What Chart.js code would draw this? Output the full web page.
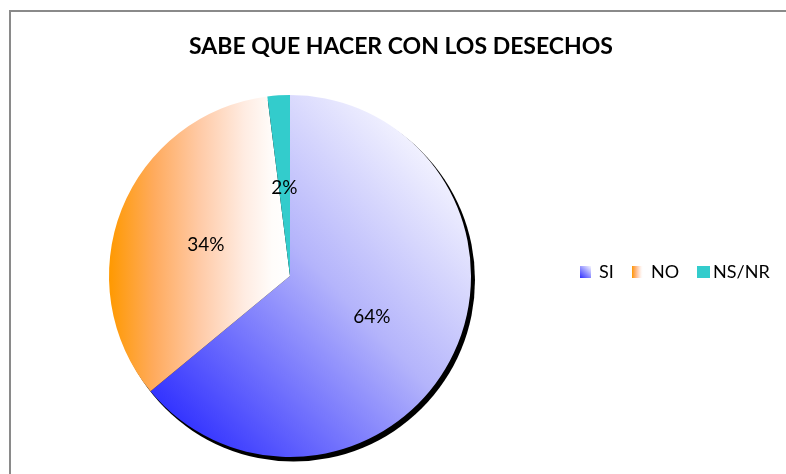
<!DOCTYPE html>
<html lang="es">
<head>
<meta charset="utf-8">
<title>Sabe que hacer con los desechos</title>
<script src="https://cdn.jsdelivr.net/npm/chart.js@4.4.0/dist/chart.umd.min.js"></script>
<style>
	html, body { margin: 0; padding: 0; background: #fff; overflow: hidden; }
	#marco {
		position: absolute; left: 9px; top: 10px; width: 800px; height: 480px;
		border-left: 2px solid #8a8a8a; border-top: 2px solid #8a8a8a;
	}
	#contenedor { position: absolute; left: 0; top: 0; width: 786px; height: 474px; }
</style>
</head>
<body>
<div id="marco"></div>
<div id="contenedor"><canvas id="grafico_desechos"></canvas></div>
<script>
var titulo = "SABE QUE HACER CON LOS DESECHOS";
var categorias = ["SI", "NO", "NS/NR"];
var porcentajes = [64, 34, 2];

var fuente = "Lato, 'Liberation Sans', sans-serif";

function degradadoNaranja(ctx, x0, x1) {
	var g = ctx.createLinearGradient(x0, 0, x1, 0);
	g.addColorStop(0, "#ff9900");
	g.addColorStop(0.25, "#ffab5e");
	g.addColorStop(0.5, "#ffcaa6");
	g.addColorStop(0.75, "#ffece2");
	g.addColorStop(0.9, "#fffcfa");
	g.addColorStop(1, "#ffffff");
	return g;
}

// degradados parecidos a los de Excel
function colorSegmento(context) {
	var chart = context.chart;
	var area = chart.chartArea;
	if (!area) {
		return ["#6666ff", "#ffb060", "#33cccc"][context.dataIndex];
	}
	var ctx = chart.ctx;
	var cx = (area.left + area.right) / 2;
	var cy = (area.top + area.bottom) / 2;
	var r = Math.min(area.width, area.height) / 2;
	if (context.dataIndex === 0) {
		var g = ctx.createLinearGradient(cx - 0.75 * r, cy + 0.72 * r, cx + 0.8 * r, cy - 0.75 * r);
		g.addColorStop(0, "#2f2fff");
		g.addColorStop(0.55, "#b4b4fb");
		g.addColorStop(1, "#f7f7ff");
		return g;
	}
	if (context.dataIndex === 1) {
		return degradadoNaranja(ctx, cx - r, cx);
	}
	return "#33cccc";
}

var sombraPlugin = {
	id: "sombra",
	beforeDatasetsDraw: function (chart) {
		var arco = chart.getDatasetMeta(0).data[0];
		var ctx = chart.ctx;
		ctx.save();
		ctx.beginPath();
		ctx.arc(arco.x + 3.5, arco.y + 4, arco.outerRadius + 0.5, 0, 2 * Math.PI);
		ctx.fillStyle = "#000";
		ctx.fill();
		ctx.restore();
	}
};

var textosPlugin = {
	id: "textos",
	afterDraw: function (chart) {
		var ctx = chart.ctx;
		var meta = chart.getDatasetMeta(0);
		ctx.save();
		ctx.fillStyle = "#000";
		ctx.textBaseline = "middle";

		// titulo
		ctx.textAlign = "center";
		ctx.font = "bold 23px " + fuente;
		ctx.fillText(titulo, 401, 47);

		// porcentajes dentro del pastel
		ctx.font = "19px " + fuente;
		meta.data.forEach(function (arco, i) {
			var p = arco.tooltipPosition();
			ctx.fillText(porcentajes[i] + "%", p.x, p.y + 2);
		});

		// leyenda horizontal a la derecha
		var xs = [580, 632, 697];
		var y = 272;
		ctx.textAlign = "left";
		ctx.font = "18px " + fuente;
		categorias.forEach(function (nombre, i) {
			var x = xs[i];
			var caja;
			if (i === 0) {
				caja = ctx.createLinearGradient(x, y + 6, x + 11, y - 6);
				caja.addColorStop(0, "#2f2fff");
				caja.addColorStop(1, "#f7f7ff");
			} else if (i === 1) {
				caja = degradadoNaranja(ctx, x, x + 11);
			} else {
				caja = "#33cccc";
			}
			ctx.fillStyle = caja;
			ctx.fillRect(x, y - 6, i === 2 ? 13 : 11, 12);
			ctx.fillStyle = "#000";
			ctx.fillText(nombre, x + (i === 2 ? 16 : 19), y);
		});
		ctx.restore();
	}
};

new Chart(document.getElementById("grafico_desechos"), {
	type: "pie",
	data: {
		labels: categorias,
		datasets: [
			{
				data: porcentajes,
				backgroundColor: colorSegmento,
				borderWidth: 0,
			},
		],
	},
	options: {
		responsive: true,
		maintainAspectRatio: false,
		animation: false,
		layout: {
			padding: { top: 95, bottom: 17, left: 109, right: 315 },
		},
		plugins: {
			legend: { display: false },
			tooltip: { enabled: false },
			title: { display: false },
		},
	},
	plugins: [sombraPlugin, textosPlugin],
});
</script>
</body>
</html>
